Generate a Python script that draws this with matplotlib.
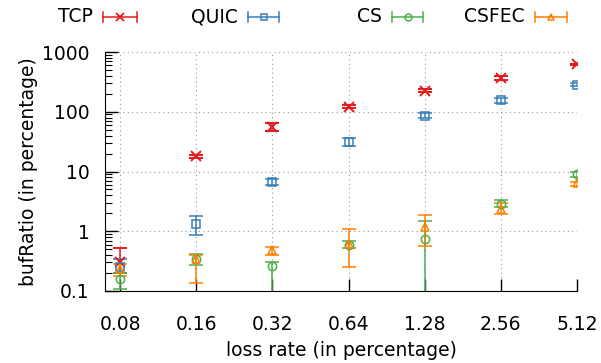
import matplotlib
matplotlib.use("Agg")
import matplotlib.pyplot as plt
import numpy as np
from matplotlib.lines import Line2D
from matplotlib.ticker import LogLocator, NullFormatter

loss_rates = ["0.08", "0.16", "0.32", "0.64", "1.28", "2.56", "5.12"]

tcp = [0.30, 18, 56, 122, 225, 370, 620]
tcp_lo = [0.20, 17, 48, 115, 212, 345, 600]
tcp_hi = [0.52, 19, 65, 130, 240, 395, 640]

quic = [0.25, 1.3, 6.8, 31, 86, 155, 285]
quic_lo = [0.20, 0.85, 6.0, 27, 78, 140, 265]
quic_hi = [0.34, 1.8, 7.6, 36, 95, 172, 300]

cs = [0.16, 0.34, 0.26, 0.60, 0.75, 2.9, 9.0]
cs_lo = [0.11, 0.27, 0.05, 0.52, 0.05, 2.5, 8.2]
cs_hi = [0.20, 0.41, 0.30, 0.70, 1.5, 3.3, 9.8]

csfec = [0.23, 0.34, 0.48, 0.62, 1.2, 2.4, 6.3]
csfec_lo = [0.18, 0.135, 0.40, 0.25, 0.56, 1.95, 5.8]
csfec_hi = [0.28, 0.40, 0.55, 1.08, 1.85, 3.0, 6.8]

series = [
    ("TCP", tcp, tcp_lo, tcp_hi, "#e41a1c", "x"),
    ("QUIC", quic, quic_lo, quic_hi, "#377eb8", "s"),
    ("CS", cs, cs_lo, cs_hi, "#4daf4a", "o"),
    ("CSFEC", csfec, csfec_lo, csfec_hi, "#ff7f00", "^"),
]

FS = 13.5
W, H = 601, 363
plt.rcParams['font.family'] = ['DejaVu Sans']
fig = plt.figure(figsize=(W / 100, H / 100), dpi=100)
ax = fig.add_axes([105 / W, 1 - 291 / H, 472 / W, 239 / H])

x = np.arange(len(loss_rates))
for name, v, lo, hi, col, mk in series:
    v = np.array(v); lo = np.array(lo); hi = np.array(hi)
    err = np.vstack([v - lo, hi - v])
    ax.errorbar(x, v, yerr=err, fmt=mk, color=col, mfc='none', mec=col,
                ms=7 if mk == 'x' else 6, mew=1.4 if mk == 'x' else 1.1,
                elinewidth=1.1, capsize=4.7, capthick=1.1, label=name)

ax.set_yscale('log')
ax.set_ylim(0.1, 1000)
ax.set_xlim(-0.2, 6.0)
ax.set_xticks(x)
ax.set_xticklabels(loss_rates)
ax.set_yticks([0.1, 1, 10, 100, 1000])
ax.set_yticklabels(["0.1", "1", "10", "100", "1000"])
ax.yaxis.set_minor_locator(LogLocator(base=10, subs=np.arange(2, 10)))
ax.yaxis.set_minor_formatter(NullFormatter())
ax.tick_params(axis='both', which='major', direction='in', length=9, width=1,
               labelsize=FS)
ax.tick_params(axis='y', which='major', pad=11)
ax.tick_params(axis='x', which='major', pad=17)
ax.tick_params(axis='y', which='minor', direction='in', length=5, width=0.8)
ax.tick_params(top=False, right=False)
for s in ['top', 'right']:
    ax.spines[s].set_visible(False)
ax.grid(True, which='major', color='#999999', linestyle=(0, (1, 3)), linewidth=0.8)
ax.set_axisbelow(True)

ax.set_ylabel("bufRatio (in percentage)", fontsize=FS, labelpad=3)
ax.set_xlabel("loss rate (in percentage)", fontsize=FS, labelpad=5.5)

# gnuplot-style key: right-aligned text followed by a horizontal errorbar sample
sample_x = [(103, 137), (248, 279), (392, 423), (535, 567)]
ky = 17
for (name, v, lo, hi, col, mk), (x0, x1) in zip(series, sample_x):
    fy = 1 - ky / H
    fig.text((x0 - 10) / W, fy, name, ha='right', va='center', fontsize=FS)
    fig.add_artist(Line2D([x0 / W, x1 / W], [fy, fy], transform=fig.transFigure,
                          color=col, lw=1.1))
    for xc in (x0, x1):
        fig.add_artist(Line2D([xc / W, xc / W], [fy - 5 / H, fy + 5 / H],
                              transform=fig.transFigure, color=col, lw=1.1))
    fig.add_artist(Line2D([(x0 + x1) / 2 / W], [fy], transform=fig.transFigure,
                          marker=mk, ms=6 if mk == 'x' else 5, mfc='none', mec=col,
                          mew=1.3 if mk == 'x' else 1.1, linestyle='none'))

fig.savefig("out.png", dpi=100)
